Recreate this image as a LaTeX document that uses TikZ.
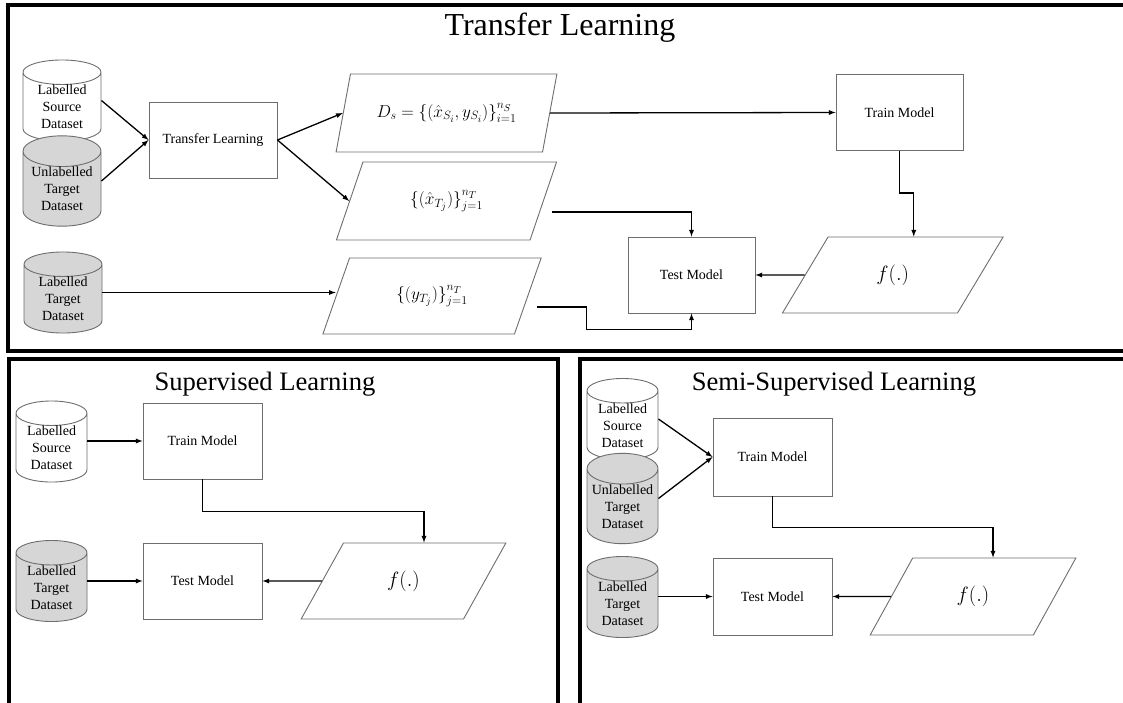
\documentclass[tikz,border=0pt]{standalone}
\usepackage{amsmath}
\usepackage{fontspec}
\setmainfont{Liberation Serif}
\usepackage{tikz}
\usetikzlibrary{arrows,shapes.geometric,calc}

\definecolor{dbgray}{RGB}{214,214,214}
\definecolor{edgegray}{RGB}{110,110,110}

\tikzset{
  panel/.style={line width=4pt},
  heading/.style={anchor=base,font=\fontsize{26.6}{30}\selectfont},
  model/.style={draw=edgegray,line width=0.9pt,minimum width=127pt,minimum height=76pt,inner sep=0pt,font=\fontsize{14}{17}\selectfont},
  dataset/.style={draw=edgegray,line width=0.9pt,cylinder,shape border rotate=90,aspect=0.5,anchor=shape center,minimum width=78pt,minimum height=76pt,inner sep=0pt,align=center,font=\fontsize{14}{17}\selectfont},
  unlab/.style={dataset,fill=dbgray},
  io/.style={draw=edgegray,line width=0.9pt,trapezium,trapezium left angle=61,trapezium right angle=119,trapezium stretches=true,minimum width=221pt,minimum height=78pt,inner sep=0pt,font=\fontsize{17.28}{20}\selectfont},
  fio/.style={io,minimum height=76pt,font=\fontsize{20.74}{24}\selectfont},
  flow/.style={-latex,line width=1.3pt},
}

\begin{document}
\begin{tikzpicture}[x=1pt,y=-1pt]
  \clip (0,0) rectangle (1123,702);
  \fill[white] (0,0) rectangle (1123,702);

  % panels
  \draw[panel] (8,4.5) rectangle (1140,350.5);
  \draw[panel] (9,359) rectangle (558,720);
  \draw[panel] (579.5,359) rectangle (1140,720);

  % transfer learning
  \node[heading,font=\fontsize{32}{36}\selectfont] (ttitle) at (560,35) {Transfer Learning};
  \node[dataset] (tsrc) at (62,100.5) {Labelled\\Source\\Dataset};
  \node[unlab] (tunl) at (62,181) {Unlabelled\\Target\\Dataset};
  \node[unlab] (ttgt) at (63,292.5) {Labelled\\Target\\Dataset};
  \node[model,minimum width=128pt] (tl) at (213,140) {Transfer Learning};
  \node[io] (ds) at (446.5,113) {$D_s = \{(\hat{x}_{S_i}, y_{S_i})\}_{i=1}^{n_S}$};
  \node[io] (xt) at (446.5,201) {$\{(\hat{x}_{T_j})\}_{j=1}^{n_T}$};
  \node[io,minimum width=220pt,minimum height=76pt] (yt) at (432,296) {$\{(y_{T_j})\}_{j=1}^{n_T}$};
  \node[model] (ttrain) at (899.5,112.5) {Train Model};
  \node[model] (ttest) at (691.5,275) {Test Model};
  \node[fio] (tf) at (892.75,275) {$f(.)$};

  \draw[flow] (tsrc.shape center -| tsrc.east) -- (tl.west);
  \draw[flow] (tunl.shape center -| tunl.east) -- (tl.west);
  \draw[flow] (tl.east) -- (ds.west);
  \draw[flow] (tl.east) -- (xt.west);
  \draw[flow] (ttgt.shape center -| ttgt.east) -- (ttgt.shape center -| yt.west);
  \draw[flow] (ds.east) -- (ttrain.west);
  \draw[flow] (ttrain.south) -- ++(0,42) -| ([xshift=21pt]tf.north);
  \draw[flow] ($(xt.east)+(8,11)$) -| (ttest.north);
  \draw[flow] ($(yt.east)+(9,11)$) -- ++(49,0) |- ($(ttest.south)+(0,16)$) -- (ttest.south);
  \draw[flow] (tf.west) -- (ttest.east);

  % supervised learning
  \node[heading] (sltitle) at (265,390) {Supervised Learning};
  \node[dataset,minimum width=71pt,minimum height=77pt] (slsrc) at (51.5,441.5) {Labelled\\Source\\Dataset};
  \node[unlab,minimum width=71pt,minimum height=77pt] (sltgt) at (51.5,581) {Labelled\\Target\\Dataset};
  \node[model,minimum width=119pt] (sltrain) at (202.5,441) {Train Model};
  \node[model,minimum width=119pt] (sltest) at (202.5,581) {Test Model};
  \node[fio,minimum width=205pt] (slf) at (403.5,581) {$f(.)$};

  \draw[flow] (slsrc.east |- sltrain.west) -- (sltrain.west);
  \draw[flow] (sltgt.east |- sltest.west) -- (sltest.west);
  \draw[flow] (sltrain.south) -- ++(0,32) -| ([xshift=20.5pt]slf.north);
  \draw[flow] (slf.west) -- (sltest.east);

  % semi-supervised learning
  \node[heading] (sstitle) at (834,390) {Semi-Supervised Learning};
  \node[dataset,minimum width=71pt,minimum height=74pt] (sssrc) at (622.5,419) {Labelled\\Source\\Dataset};
  \node[unlab,minimum width=71pt,minimum height=75pt] (ssunl) at (622.5,498.5) {Unlabelled\\Target\\Dataset};
  \node[unlab,minimum width=71pt,minimum height=76pt] (sstgt) at (622.5,597) {Labelled\\Target\\Dataset};
  \node[model,minimum width=119pt,minimum height=78pt] (sstrain) at (772.5,457) {Train Model};
  \node[model,minimum width=119pt,minimum height=77pt] (sstest) at (772.5,596.5) {Test Model};
  \node[fio,minimum width=206pt,minimum height=77pt] (ssf) at (973,596.5) {$f(.)$};

  \draw[flow] (sssrc.shape center -| sssrc.east) -- (sstrain.west);
  \draw[flow] (ssunl.shape center -| ssunl.east) -- (sstrain.west);
  \draw[flow] (sstgt.east |- sstest.west) -- (sstest.west);
  \draw[flow] (sstrain.south) -- ++(0,31) -| ([xshift=20pt]ssf.north);
  \draw[flow] (ssf.west) -- (sstest.east);
\end{tikzpicture}
\end{document}
